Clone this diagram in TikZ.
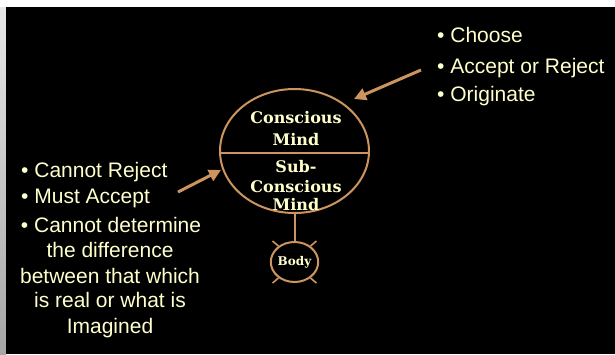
\documentclass[tikz,border=0pt]{standalone}
\usepackage{fontspec}
\setmainfont{Liberation Sans}
\newfontfamily\mindfont{DejaVu Serif}
\usetikzlibrary{arrows.meta,shapes.geometric}
\definecolor{tan}{HTML}{CC9560}
\definecolor{cream}{HTML}{FFFFCC}
\definecolor{stripgrey}{HTML}{D8D8D8}
\begin{document}
\begin{tikzpicture}[x=1pt,y=-1pt,
  sanstext/.style={text=cream,inner sep=0pt,font=\fontsize{21}{24}\selectfont},
  mindtext/.style={text=cream,inner sep=0pt,anchor=base,font=\mindfont\bfseries\fontsize{16}{18}\selectfont},
  ring/.style={draw=tan,line width=2pt,ellipse,inner sep=0pt},
  arr/.style={draw=tan,line width=3pt,-{Triangle[length=12pt,width=12pt]}},
  tick/.style={draw=tan,line width=1.6pt}]
\useasboundingbox (0,0) rectangle (615,354);
\fill[white] (0,0) rectangle (615,354);
\shade[top color=stripgrey!60,bottom color=gray!70] (0,7) rectangle (6,354);
\fill[black] (6,7) rectangle (615,354);
% main ellipse
\node[ring,minimum width=149pt,minimum height=124pt] (mind) at (294.5,151) {};
\draw[tan,line width=2pt] ([yshift=-2pt]mind.west) -- ([yshift=-2pt]mind.east);
\node[mindtext] (c1) at (296,123) {Conscious};
\node[mindtext] (c2) at (296,145) {Mind};
\node[mindtext] (s1) at (296,172) {Sub-};
\node[mindtext] (s2) at (296,192) {Conscious};
\node[mindtext] (s3) at (296,210) {Mind};
% body
\node[ring,minimum width=44pt,minimum height=40pt,font=\mindfont\bfseries\fontsize{12}{14}\selectfont,text=cream] (body) at (294.5,262) {Body};
\draw[tan,line width=2pt] (mind.south) -- (body.north);
\draw[tick] (body.135) -- ++(-6,-5);
\draw[tick] (body.45) -- ++(6,-5);
\draw[tick] (body.225) -- ++(-6,5);
\draw[tick] (body.315) -- ++(6,5);
% right list
\node[sanstext,anchor=base west] (r1) at (437,42) {• Choose};
\node[sanstext,anchor=base west] (r2) at (437,73) {• Accept or Reject};
\node[sanstext,anchor=base west] (r3) at (437,101) {• Originate};
% left list
\node[sanstext,anchor=base west] (l1) at (21,177) {• Cannot Reject};
\node[sanstext,anchor=base west] (l2) at (21,203) {• Must Accept};
\node[sanstext,anchor=base] (l3a) at (111,232) {• Cannot determine};
\node[sanstext,anchor=base] (l3b) at (110,257) {the difference};
\node[sanstext,anchor=base] (l3c) at (110,283) {between that which};
\node[sanstext,anchor=base] (l3d) at (110,307) {is real or what is};
\node[sanstext,anchor=base] (l3e) at (110,333) {Imagined};
% arrows
\coordinate (a1s) at (421,70);
\coordinate (a1e) at (354,99);
\coordinate (a2s) at (178,192);
\coordinate (a2e) at (221,170);
\draw[arr] (a1s) -- (a1e);
\draw[arr] (a2s) -- (a2e);
\end{tikzpicture}
\end{document}
